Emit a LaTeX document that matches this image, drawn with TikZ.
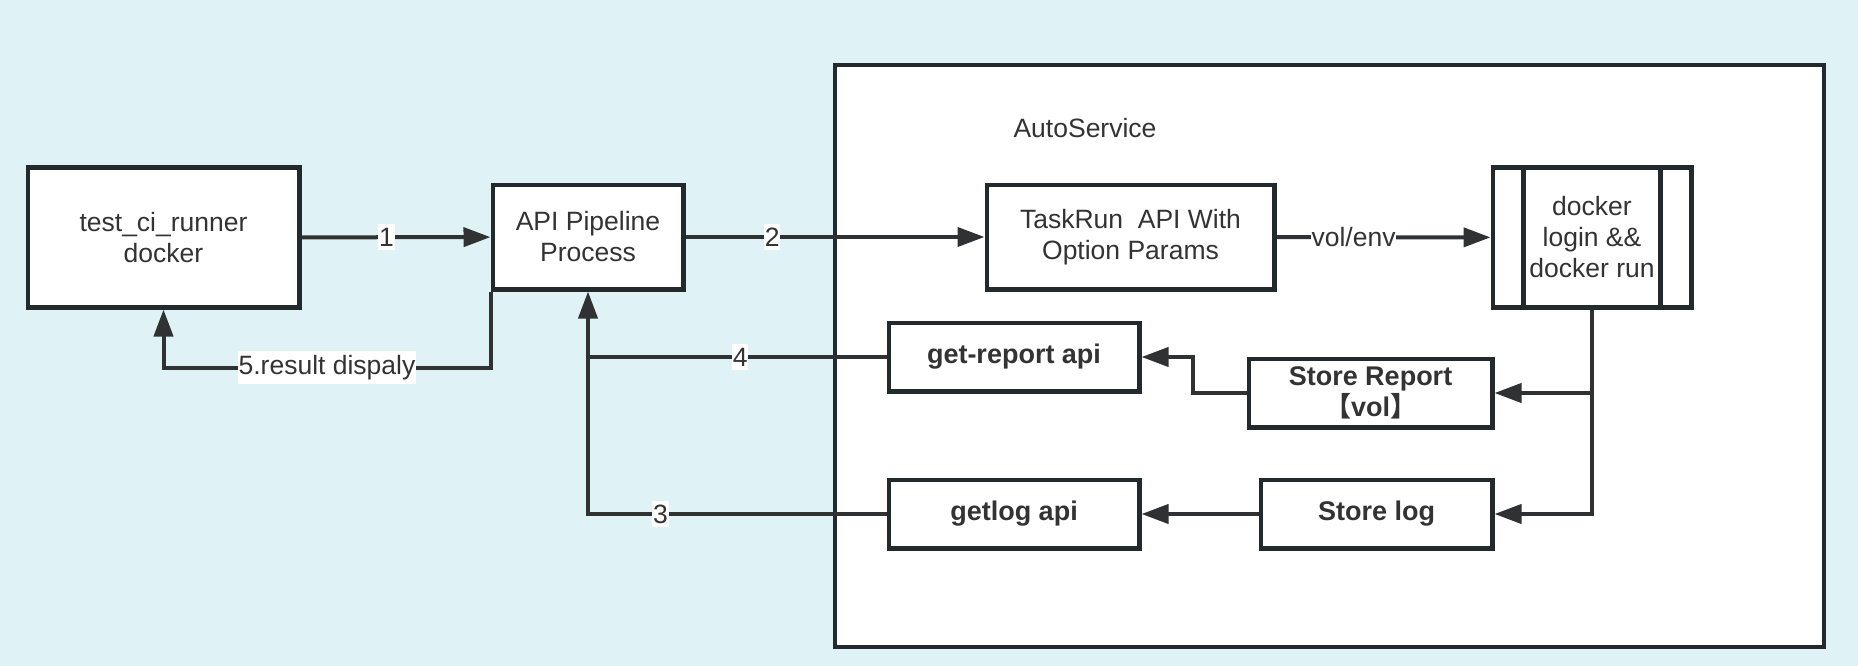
\documentclass[tikz,border=0pt]{standalone}
\usepackage{fontspec}
\setmainfont{Liberation Sans}
\newfontfamily\cjkfont{Noto Sans CJK SC}
\usetikzlibrary{arrows.meta}
\definecolor{bg}{HTML}{DFF3F6}
\definecolor{ink}{HTML}{222A2E}
\definecolor{wire}{HTML}{2F3133}
\definecolor{txt}{HTML}{333333}
\tikzset{
  box/.style={draw=ink, line width=4.5pt, fill=white, align=center, text=txt,
    font=\fontsize{26.5}{31}\selectfont, inner sep=0pt},
  bbox/.style={box, font=\bfseries\fontsize{27}{31}\selectfont},
  conn/.style={draw=wire, line width=4pt, -{Triangle[length=27pt,width=19pt]}},
  plain/.style={draw=wire, line width=4pt},
  lbl/.style={fill=white, text=txt, font=\fontsize{26.5}{31}\selectfont, inner xsep=0.8pt, inner ysep=4pt},
}
\begin{document}
\begin{tikzpicture}[x=1pt,y=-1pt]
\fill[bg] (0,0) rectangle (1858,666);
\useasboundingbox (0,0) rectangle (1858,666);

% container
\node[draw=ink, line width=4pt, fill=white, minimum width=989pt, minimum height=582pt, inner sep=0pt] (auto) at (1329.5,356) {};
\node[text=txt, font=\fontsize{26.5}{31}\selectfont] (title) at (1085,128) {AutoService};

% nodes
\node[box, minimum width=271.5pt, minimum height=139.5pt] (runner) at (163.5,237.5) {test\_ci\_runner\\docker};
\node[box, minimum width=190.5pt, minimum height=104.5pt] (api) at (588,237) {API Pipeline\\Process};
\node[box, minimum width=287.5pt, minimum height=104.5pt] (task) at (1130.5,237) {TaskRun\ \ API With\\Option Params};
\node[box, minimum width=198.5pt, minimum height=139.5pt] (docker) at (1592,237.5) {docker\\login \&\&\\docker run};
\draw[draw=ink, line width=4.5pt] ([xshift=33pt]docker.north west) -- ([xshift=33pt]docker.south west);
\draw[draw=ink, line width=4.5pt] ([xshift=-33pt]docker.north east) -- ([xshift=-33pt]docker.south east);
\node[bbox, minimum width=250.5pt, minimum height=68.5pt] (grep) at (1014,357) {get-report api};
\node[bbox, minimum width=243.5pt, minimum height=68.5pt] (srep) at (1370.5,393) {Store Report\\{\cjkfont\bfseries 【}vol{\cjkfont\bfseries 】}};
\node[bbox, minimum width=250.5pt, minimum height=68.5pt] (glog) at (1014,514) {getlog api};
\node[bbox, minimum width=231.5pt, minimum height=68.5pt] (slog) at (1376.5,514) {Store log};

% connectors
\draw[conn] (runner) -- node[lbl, pos=0.45]{1} (api);
\draw[conn] (api) -- node[lbl, pos=0.29]{2} (task);
\draw[conn] (task) -- node[lbl, pos=0.36]{vol/env} (docker);
\draw[conn] (docker.south) |- (slog.east);
\draw[conn] (docker.south |- srep.east) -- (srep.east);
\draw[conn] (srep.west) -- ++(-54pt,0) |- (grep.east);
\draw[conn] (slog) -- (glog);
\draw[conn] (glog.west) -- node[lbl, pos=0.757]{3} (glog.west -| api.south) -- (api.south);
\draw[plain] (grep.west) -- node[lbl, pos=0.49]{4} (grep.west -| api.south);
\coordinate (c5) at ([yshift=-76pt]api.south west);
\draw[conn] (api.south west) -- (c5) -| node[lbl, pos=0.25]{5.result dispaly} (runner.south);
\end{tikzpicture}
\end{document}
